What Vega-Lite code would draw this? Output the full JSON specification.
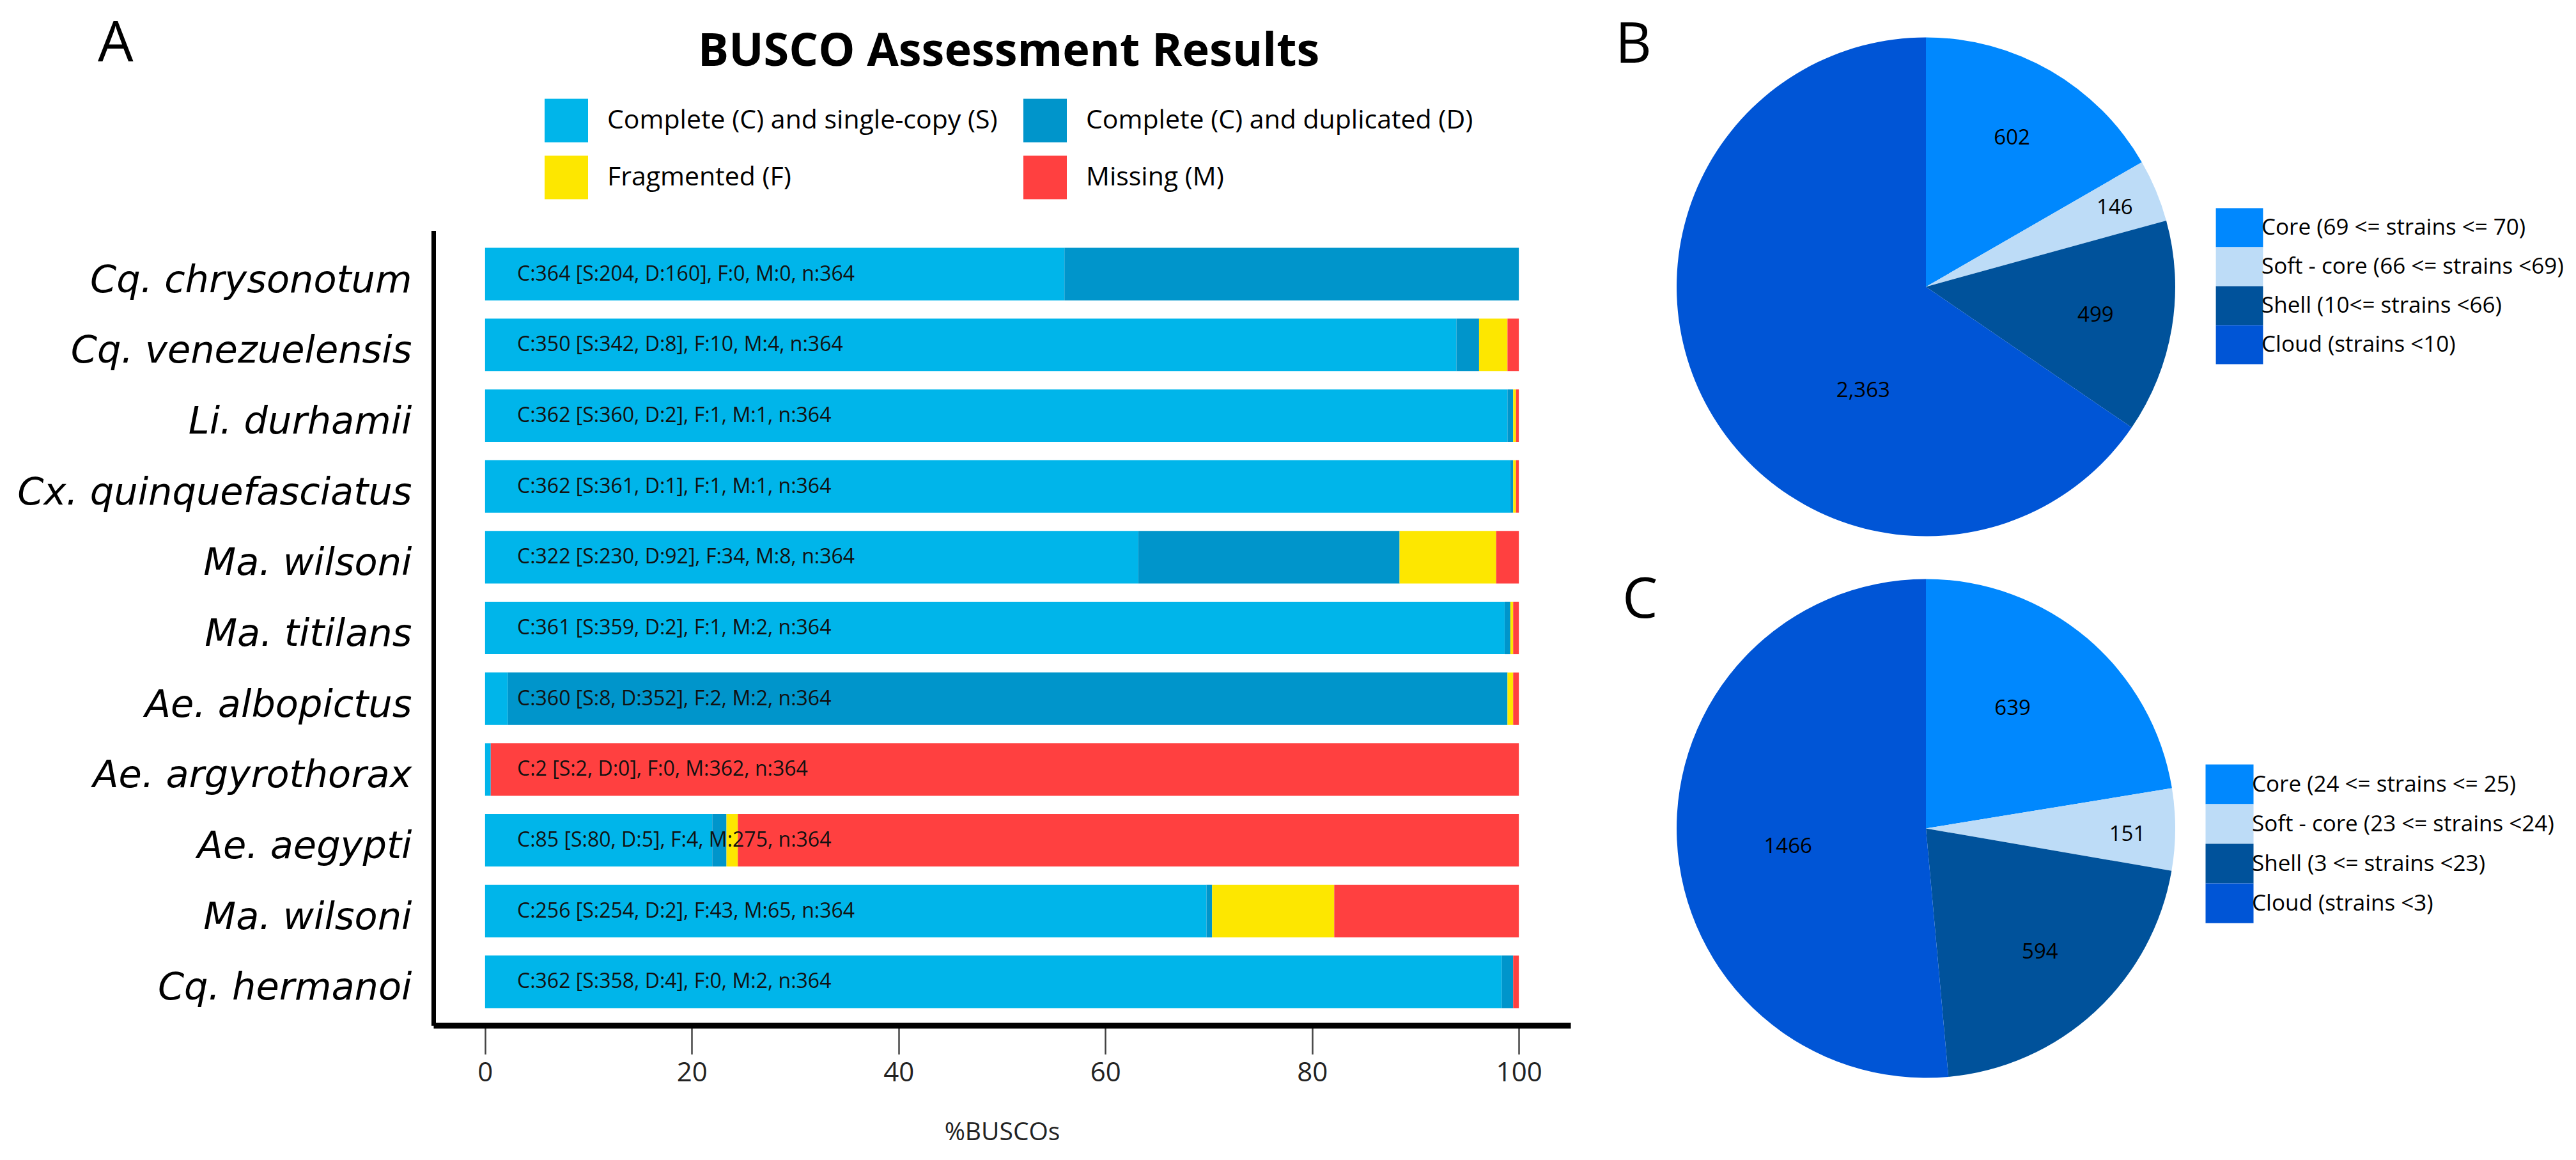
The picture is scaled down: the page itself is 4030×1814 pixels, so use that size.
{
  "$schema": "https://vega.github.io/schema/vega-lite/v6.json",
  "background": "white",
  "padding": {"left": 26, "top": 25.5, "right": 5, "bottom": 5},
  "config": {"view": {"stroke": null}, "font": "Open Sans", "title": {"color": "black"}},
  "datasets": {
    "segs": [
      {"sp": "01|Cq. chrysonotum", "c": "S", "n": 204, "o": 1},
      {"sp": "01|Cq. chrysonotum", "c": "D", "n": 160, "o": 2},
      {"sp": "01|Cq. chrysonotum", "c": "F", "n": 0, "o": 3},
      {"sp": "01|Cq. chrysonotum", "c": "M", "n": 0, "o": 4},
      {"sp": "02|Cq. venezuelensis", "c": "S", "n": 342, "o": 1},
      {"sp": "02|Cq. venezuelensis", "c": "D", "n": 8, "o": 2},
      {"sp": "02|Cq. venezuelensis", "c": "F", "n": 10, "o": 3},
      {"sp": "02|Cq. venezuelensis", "c": "M", "n": 4, "o": 4},
      {"sp": "03|Li. durhamii", "c": "S", "n": 360, "o": 1},
      {"sp": "03|Li. durhamii", "c": "D", "n": 2, "o": 2},
      {"sp": "03|Li. durhamii", "c": "F", "n": 1, "o": 3},
      {"sp": "03|Li. durhamii", "c": "M", "n": 1, "o": 4},
      {"sp": "04|Cx. quinquefasciatus", "c": "S", "n": 361, "o": 1},
      {"sp": "04|Cx. quinquefasciatus", "c": "D", "n": 1, "o": 2},
      {"sp": "04|Cx. quinquefasciatus", "c": "F", "n": 1, "o": 3},
      {"sp": "04|Cx. quinquefasciatus", "c": "M", "n": 1, "o": 4},
      {"sp": "05|Ma. wilsoni", "c": "S", "n": 230, "o": 1},
      {"sp": "05|Ma. wilsoni", "c": "D", "n": 92, "o": 2},
      {"sp": "05|Ma. wilsoni", "c": "F", "n": 34, "o": 3},
      {"sp": "05|Ma. wilsoni", "c": "M", "n": 8, "o": 4},
      {"sp": "06|Ma. titilans", "c": "S", "n": 359, "o": 1},
      {"sp": "06|Ma. titilans", "c": "D", "n": 2, "o": 2},
      {"sp": "06|Ma. titilans", "c": "F", "n": 1, "o": 3},
      {"sp": "06|Ma. titilans", "c": "M", "n": 2, "o": 4},
      {"sp": "07|Ae. albopictus", "c": "S", "n": 8, "o": 1},
      {"sp": "07|Ae. albopictus", "c": "D", "n": 352, "o": 2},
      {"sp": "07|Ae. albopictus", "c": "F", "n": 2, "o": 3},
      {"sp": "07|Ae. albopictus", "c": "M", "n": 2, "o": 4},
      {"sp": "08|Ae. argyrothorax", "c": "S", "n": 2, "o": 1},
      {"sp": "08|Ae. argyrothorax", "c": "D", "n": 0, "o": 2},
      {"sp": "08|Ae. argyrothorax", "c": "F", "n": 0, "o": 3},
      {"sp": "08|Ae. argyrothorax", "c": "M", "n": 362, "o": 4},
      {"sp": "09|Ae. aegypti", "c": "S", "n": 80, "o": 1},
      {"sp": "09|Ae. aegypti", "c": "D", "n": 5, "o": 2},
      {"sp": "09|Ae. aegypti", "c": "F", "n": 4, "o": 3},
      {"sp": "09|Ae. aegypti", "c": "M", "n": 275, "o": 4},
      {"sp": "10|Ma. wilsoni", "c": "S", "n": 254, "o": 1},
      {"sp": "10|Ma. wilsoni", "c": "D", "n": 2, "o": 2},
      {"sp": "10|Ma. wilsoni", "c": "F", "n": 43, "o": 3},
      {"sp": "10|Ma. wilsoni", "c": "M", "n": 65, "o": 4},
      {"sp": "11|Cq. hermanoi", "c": "S", "n": 358, "o": 1},
      {"sp": "11|Cq. hermanoi", "c": "D", "n": 4, "o": 2},
      {"sp": "11|Cq. hermanoi", "c": "F", "n": 0, "o": 3},
      {"sp": "11|Cq. hermanoi", "c": "M", "n": 2, "o": 4}
    ],
    "labs": [
      {"sp": "01|Cq. chrysonotum", "t": "C:364 [S:204, D:160], F:0, M:0, n:364"},
      {"sp": "02|Cq. venezuelensis", "t": "C:350 [S:342, D:8], F:10, M:4, n:364"},
      {"sp": "03|Li. durhamii", "t": "C:362 [S:360, D:2], F:1, M:1, n:364"},
      {"sp": "04|Cx. quinquefasciatus", "t": "C:362 [S:361, D:1], F:1, M:1, n:364"},
      {"sp": "05|Ma. wilsoni", "t": "C:322 [S:230, D:92], F:34, M:8, n:364"},
      {"sp": "06|Ma. titilans", "t": "C:361 [S:359, D:2], F:1, M:2, n:364"},
      {"sp": "07|Ae. albopictus", "t": "C:360 [S:8, D:352], F:2, M:2, n:364"},
      {"sp": "08|Ae. argyrothorax", "t": "C:2 [S:2, D:0], F:0, M:362, n:364"},
      {"sp": "09|Ae. aegypti", "t": "C:85 [S:80, D:5], F:4, M:275, n:364"},
      {"sp": "10|Ma. wilsoni", "t": "C:256 [S:254, D:2], F:43, M:65, n:364"},
      {"sp": "11|Cq. hermanoi", "t": "C:362 [S:358, D:4], F:0, M:2, n:364"}
    ],
    "pieB": [
      {"g": "Core (69 <= strains <= 70)", "v": 602, "o": 1},
      {"g": "Soft - core (66 <= strains <69)", "v": 146, "o": 2},
      {"g": "Shell (10<= strains <66)", "v": 499, "o": 3},
      {"g": "Cloud (strains <10)", "v": 2363, "o": 4}
    ],
    "pieC": [
      {"g": "Core (24 <= strains <= 25)", "v": 639, "o": 1},
      {"g": "Soft - core (23 <= strains <24)", "v": 151, "o": 2},
      {"g": "Shell (3 <= strains <23)", "v": 594, "o": 3},
      {"g": "Cloud (strains <3)", "v": 1466, "o": 4}
    ]
  },
  "hconcat": [
    {
      "vconcat": [
        {
          "width": 1779,
          "height": 302,
          "title": {"text": "A", "anchor": "start", "frame": "group", "fontSize": 88, "fontWeight": "normal", "font": "Open Sans", "baseline": "top", "offset": 0, "dx": -525, "dy": 68.5, "color": "black"},
          "data": {"name": "segs"},
          "transform": [{"filter": "datum.n < 0"}],
          "mark": {"type": "bar"},
          "encoding": {
            "color": {
              "field": "c", "type": "nominal",
              "scale": {"domain": ["S", "D", "F", "M"], "range": ["#00B5EA", "#0095CB", "#FDE700", "#FF4040"]},
              "legend": {"orient": "none", "direction": "horizontal", "legendX": 174, "legendY": -13, "columns": 2, "title": "BUSCO Assessment Results", "titleFontSize": 72, "titleFontWeight": "bold", "titleFont": "Open Sans", "titleColor": "black", "titleAnchor": "middle", "titleBaseline": "top", "titlePadding": 37, "titleLimit": 0, "symbolType": "square", "symbolSize": 4624, "symbolStrokeWidth": 0, "symbolOpacity": 1, "labelFontSize": 41, "labelFont": "Open Sans", "labelColor": "black", "labelOffset": 30, "labelLimit": 0, "columnPadding": 40, "rowPadding": 21, "padding": 0, "labelExpr": "datum.label == 'S' ? 'Complete (C) and single-copy (S)' : datum.label == 'D' ? 'Complete (C) and duplicated (D)' : datum.label == 'F' ? 'Fragmented (F)' : 'Missing (M)'"}
            }
          }
        },
        {
          "width": 1779,
          "height": 1243,
          "layer": [
            {
              "data": {"name": "segs"},
              "mark": {"type": "bar"},
              "encoding": {
                "y": {
                  "field": "sp", "type": "nominal",
                  "scale": {"paddingInner": 0.258, "paddingOuter": 0.244},
                  "axis": {"title": null, "labelExpr": "split(datum.label, '|')[1]", "labelFont": "DejaVu Sans", "labelFontStyle": "italic", "labelFontSize": 59, "labelColor": "black", "labelPadding": 34, "labelOffset": 10, "labelLimit": 0, "ticks": false, "tickSize": 0, "domainColor": "black", "domainWidth": 7, "grid": false}
                },
                "x": {
                  "field": "n", "type": "quantitative", "stack": "normalize",
                  "scale": {"domain": [-0.05, 1.05], "nice": false, "zero": false},
                  "axis": {"values": [0, 0.2, 0.4, 0.6, 0.8, 1], "labelExpr": "format(datum.value * 100, 'd')", "title": "%BUSCOs", "titleFontSize": 39, "titleFontWeight": "normal", "titleColor": "#222", "titlePadding": 53, "labelFontSize": 42, "labelColor": "#222", "labelPadding": 9, "tickColor": "#444", "tickWidth": 2.5, "tickSize": 45, "domainColor": "black", "domainWidth": 9, "grid": false}
                },
                "color": {
                  "field": "c", "type": "nominal",
                  "scale": {"domain": ["S", "D", "F", "M"], "range": ["#00B5EA", "#0095CB", "#FDE700", "#FF4040"]},
                  "legend": null
                },
                "order": {"field": "o", "type": "quantitative"}
              }
            },
            {
              "data": {"name": "labs"},
              "mark": {"type": "text", "align": "left", "baseline": "middle", "fontSize": 32, "color": "#111"},
              "encoding": {
                "y": {"field": "sp", "type": "nominal"},
                "x": {"datum": 0.031, "type": "quantitative"},
                "text": {"field": "t", "type": "nominal"}
              }
            }
          ]
        }
      ],
      "spacing": 0,
      "resolve": {"scale": {"color": "independent"}, "legend": {"color": "independent"}}
    },
    {
      "vconcat": [
        {
          "width": 780,
          "height": 780,
          "title": {"text": "B", "anchor": "start", "frame": "group", "fontSize": 88, "fontWeight": "normal", "font": "Open Sans", "baseline": "top", "offset": 0, "dx": -96, "dy": 57.5, "color": "black"},
          "data": {"name": "pieB"},
          "encoding": {
            "theta": {"field": "v", "type": "quantitative", "stack": true},
            "order": {"field": "o", "type": "quantitative"}
          },
          "layer": [
            {
              "mark": {"type": "arc"},
              "encoding": {
                "color": {
                  "field": "g", "type": "nominal",
                  "scale": {"domain": ["Core (69 <= strains <= 70)", "Soft - core (66 <= strains <69)", "Shell (10<= strains <66)", "Cloud (strains <10)"], "range": ["#0088FE", "#BDDCF7", "#00529B", "#0055D6"]},
                  "legend": {"orient": "none", "legendX": 850, "legendY": 267, "title": null, "symbolType": "M-1.21,-1H1.21V1H-1.21Z", "symbolSize": 3721, "symbolStrokeWidth": 0, "symbolOpacity": 1, "labelFontSize": 35, "labelColor": "black", "labelOffset": 4, "rowPadding": 0, "padding": 0, "labelLimit": 0}
                }
              }
            },
            {
              "mark": {"type": "text", "radius": 269, "fontSize": 33, "color": "black"},
              "encoding": {"detail": {"field": "g"}, "text": {"condition": {"test": "datum.o != 1 && datum.o != 3", "value": ""}, "field": "v", "type": "quantitative", "format": ","}}
            },
            {
              "mark": {"type": "text", "radius": 320, "fontSize": 33, "color": "black"},
              "encoding": {"detail": {"field": "g"}, "text": {"condition": {"test": "datum.o != 2", "value": ""}, "field": "v", "type": "quantitative", "format": ","}}
            },
            {
              "mark": {"type": "text", "radius": 189, "dx": 69, "dy": 74, "fontSize": 33, "color": "black"},
              "encoding": {"detail": {"field": "g"}, "text": {"condition": {"test": "datum.o != 4", "value": ""}, "field": "v", "type": "quantitative", "format": ","}}
            }
          ]
        },
        {
          "width": 780,
          "height": 780,
          "title": {"text": "C", "anchor": "start", "frame": "group", "fontSize": 88, "fontWeight": "normal", "font": "Open Sans", "baseline": "top", "offset": 0, "dx": -85, "dy": 78.5, "color": "black"},
          "data": {"name": "pieC"},
          "encoding": {
            "theta": {"field": "v", "type": "quantitative", "stack": true},
            "order": {"field": "o", "type": "quantitative"}
          },
          "layer": [
            {
              "mark": {"type": "arc"},
              "encoding": {
                "color": {
                  "field": "g", "type": "nominal",
                  "scale": {"domain": ["Core (24 <= strains <= 25)", "Soft - core (23 <= strains <24)", "Shell (3 <= strains <23)", "Cloud (strains <3)"], "range": ["#0088FE", "#BDDCF7", "#00529B", "#0055D6"]},
                  "legend": {"orient": "none", "legendX": 834, "legendY": 290, "title": null, "symbolType": "M-1.21,-1H1.21V1H-1.21Z", "symbolSize": 3844, "symbolStrokeWidth": 0, "symbolOpacity": 1, "labelFontSize": 35, "labelColor": "black", "labelOffset": 4, "rowPadding": 0, "padding": 0, "labelLimit": 0}
                }
              }
            },
            {
              "mark": {"type": "text", "radius": 231, "dx": -14, "dy": -11, "fontSize": 33, "color": "black"},
              "encoding": {"detail": {"field": "g"}, "text": {"condition": {"test": "datum.o != 1", "value": ""}, "field": "v", "type": "quantitative", "format": "d"}}
            },
            {
              "mark": {"type": "text", "radius": 315, "dy": 8, "fontSize": 33, "color": "black"},
              "encoding": {"detail": {"field": "g"}, "text": {"condition": {"test": "datum.o != 2", "value": ""}, "field": "v", "type": "quantitative", "format": "d"}}
            },
            {
              "mark": {"type": "text", "radius": 263, "fontSize": 33, "color": "black"},
              "encoding": {"detail": {"field": "g"}, "text": {"condition": {"test": "datum.o != 3", "value": ""}, "field": "v", "type": "quantitative", "format": "d"}}
            },
            {
              "mark": {"type": "text", "radius": 216, "dy": 19, "fontSize": 33, "color": "black"},
              "encoding": {"detail": {"field": "g"}, "text": {"condition": {"test": "datum.o != 4", "value": ""}, "field": "v", "type": "quantitative", "format": "d"}}
            }
          ]
        }
      ],
      "spacing": 67,
      "bounds": "flush",
      "resolve": {"scale": {"color": "independent"}, "legend": {"color": "independent"}}
    }
  ],
  "spacing": 70,
  "resolve": {"scale": {"color": "independent"}, "legend": {"color": "independent"}}
}
